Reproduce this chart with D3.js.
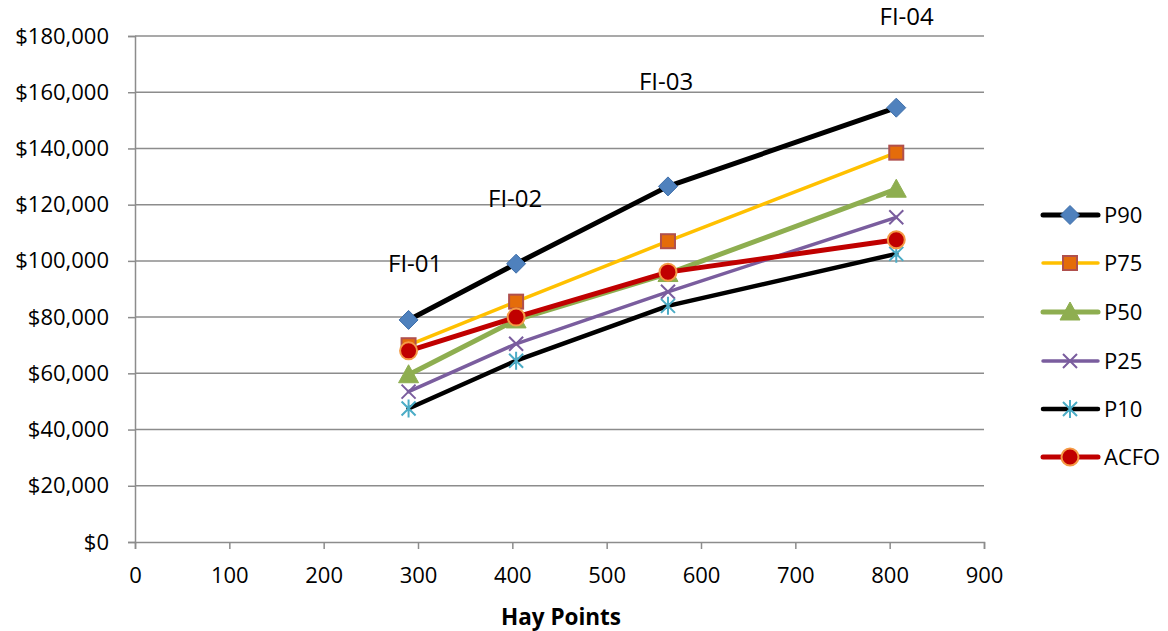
<!DOCTYPE html>
<html><head><meta charset="utf-8">
<script src="https://cdn.jsdelivr.net/npm/d3@7/dist/d3.min.js"></script>
<style>
html,body{margin:0;padding:0;background:#fff;}
svg{display:block;font-family:"Open Sans",sans-serif;}
</style></head><body>
<svg id="chart" width="1168" height="631"></svg>
<script>
// ---- data ----
const hayPoints = [290, 404, 565, 807];
const seriesNames = ["P90", "P75", "P50", "P25", "P10", "ACFO"];
const p90  = [79000, 99000, 126500, 154500];
const p75  = [70000, 85500, 107000, 138500];
const p50  = [59500, 79000, 95500, 125500];
const p25  = [53500, 70500, 89000, 115500];
const p10  = [47500, 64500, 84000, 102500];
const acfo = [68000, 80000, 96000, 107500];
const gradeLabels = ["FI-01", "FI-02", "FI-03", "FI-04"];
const gradeLabelX = [297, 403, 563, 818];
const gradeLabelY = [99600, 122700, 164400, 187500];
const yTicks = [0, 20000, 40000, 60000, 80000, 100000, 120000, 140000, 160000, 180000];
const xTicks = [0, 100, 200, 300, 400, 500, 600, 700, 800, 900];
const xTitle = "Hay Points";

const seriesValues = [p90, p75, p50, p25, p10, acfo];
const styles = {
  P90:  {line:"#000000", w:5,   marker:"diamond",  fill:"#4F81BD", stroke:"#3F6FAA"},
  P75:  {line:"#FFC000", w:3.5, marker:"square",   fill:"#E46C0A", stroke:"#B0504D"},
  P50:  {line:"#8EAE50", w:5,   marker:"triangle", fill:"#8EAE50", stroke:"#8EAE50"},
  P25:  {line:"#7A5D9E", w:3.5, marker:"x",        fill:"none",    stroke:"#7A5D9E"},
  P10:  {line:"#000000", w:4.5, marker:"star",     fill:"none",    stroke:"#4BACC6"},
  ACFO: {line:"#C00000", w:5,   marker:"circle",   fill:"#C00000", stroke:"#F59A45"}
};

const svg = d3.select("#chart");
const x = d3.scaleLinear().domain([0, 900]).range([135, 984]);
const y = d3.scaleLinear().domain([0, 180000]).range([542, 36]);

// gridlines
svg.append("g").selectAll("line").data(yTicks.filter(d => d > 0)).join("line")
  .attr("x1", x(0)).attr("x2", x(900))
  .attr("y1", d => y(d)).attr("y2", d => y(d))
  .attr("stroke", "#8C8C8C").attr("stroke-width", 1.5);

// axes
const fmt = d => "$" + d3.format(",")(d);
const yAxis = svg.append("g").attr("transform", `translate(${x(0)},0)`)
  .call(d3.axisLeft(y).tickValues(yTicks).tickFormat(fmt).tickSize(7).tickPadding(19));
const xAxis = svg.append("g").attr("transform", `translate(0,${y(0)})`)
  .call(d3.axisBottom(x).tickValues(xTicks).tickFormat(d3.format("d")).tickSize(7).tickPadding(18));
[yAxis, xAxis].forEach(a => {
  a.selectAll("path,line").attr("stroke", "#8C8C8C").attr("stroke-width", 1.5);
  a.selectAll("text").attr("fill", "#000").style("font-size", "22px").style("font-family", '"Open Sans",sans-serif');
});

svg.append("text").attr("x", 561).attr("y", 625).attr("text-anchor", "middle")
  .style("font-size", "22.5px").style("font-weight", "bold").text(xTitle);

// marker drawing
function drawMarker(g, type, st) {
  if (type === "diamond") {
    g.append("path").attr("d", "M0,-9.5L9.5,0L0,9.5L-9.5,0Z").attr("fill", st.fill).attr("stroke", st.stroke).attr("stroke-width", 1);
  } else if (type === "square") {
    g.append("rect").attr("x", -7).attr("y", -7).attr("width", 14).attr("height", 14)
      .attr("fill", st.fill).attr("stroke", st.stroke).attr("stroke-width", 2);
  } else if (type === "triangle") {
    g.append("path").attr("d", "M0,-10L10,8L-10,8Z").attr("fill", st.fill).attr("stroke", st.stroke).attr("stroke-width", 1);
  } else if (type === "x") {
    g.append("path").attr("d", "M-7,-7L7,7M-7,7L7,-7").attr("stroke", st.stroke).attr("stroke-width", 2).attr("fill", "none");
  } else if (type === "star") {
    g.append("path").attr("d", "M-7,-7L7,7M-7,7L7,-7M0,-9L0,9").attr("stroke", st.stroke).attr("stroke-width", 2).attr("fill", "none");
  } else if (type === "circle") {
    g.append("circle").attr("r", 8.5).attr("fill", st.fill).attr("stroke", st.stroke).attr("stroke-width", 2);
  }
}

const line = d3.line().x(d => x(d[0])).y(d => y(d[1]));
seriesNames.forEach((name, i) => {
  const st = styles[name];
  const pts = hayPoints.map((h, j) => [h, seriesValues[i][j]]);
  const g = svg.append("g");
  g.append("path").attr("d", line(pts)).attr("fill", "none")
    .attr("stroke", st.line).attr("stroke-width", st.w).attr("stroke-linejoin", "round").attr("stroke-linecap", "round");
  pts.forEach(p => {
    const m = g.append("g").attr("transform", `translate(${x(p[0])},${y(p[1])})`);
    drawMarker(m, st.marker, st);
  });
});

// grade labels
svg.append("g").selectAll("text").data(gradeLabels).join("text")
  .attr("x", (d, i) => x(gradeLabelX[i])).attr("y", (d, i) => y(gradeLabelY[i]) + 10)
  .attr("text-anchor", "middle").style("font-size", "24px").text(d => d);

// legend
const legY = [215, 263, 312, 361, 409, 457];
seriesNames.forEach((name, i) => {
  const st = styles[name];
  const g = svg.append("g").attr("transform", `translate(1070,${legY[i]})`);
  g.append("line").attr("x1", -27).attr("x2", 28).attr("stroke", st.line).attr("stroke-width", st.w).attr("stroke-linecap", "round");
  drawMarker(g, st.marker, st);
  g.append("text").attr("x", 34).attr("y", 8).style("font-size", "22px").text(name);
});
</script>
</body></html>
